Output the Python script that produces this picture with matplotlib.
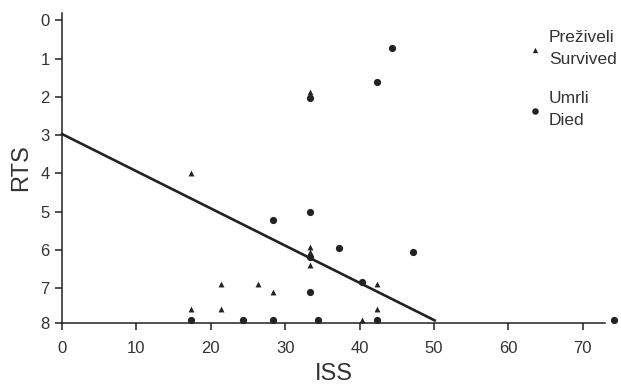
import matplotlib
matplotlib.use("Agg")
import matplotlib.pyplot as plt
import numpy as np

plt.rcParams['font.family'] = ['Liberation Sans', 'DejaVu Sans']

# Survived (Preživeli) - triangles
surv_iss = [17.4, 17.4, 21.4, 21.4, 26.4, 28.3, 33.4, 33.4, 33.4, 33.4, 40.3, 42.4, 42.4]
surv_rts = [4.0, 7.55, 6.90, 7.55, 6.90, 7.11, 1.86, 5.92, 6.05, 6.38, 7.84, 6.90, 7.55]

# Died (Umrli) - circles
died_iss = [17.4, 24.4, 28.3, 28.3, 33.4, 33.4, 33.4, 33.4, 34.4, 37.2, 40.3, 42.4, 42.4, 44.3, 47.2, 74.2]
died_rts = [7.84, 7.84, 7.84, 5.22, 2.03, 5.00, 6.18, 7.11, 7.84, 5.94, 6.83, 7.84, 1.60, 0.72, 6.06, 7.84]

# Regression line RTS = intercept + slope * ISS
reg_intercept = 2.97
reg_slope = 0.0972
rts_max = 7.84

x_ticks = [0, 10, 20, 30, 40, 50, 60, 70]
y_ticks = [0, 1, 2, 3, 4, 5, 6, 7, 7.9]
y_tick_labels = ['0', '1', '2', '3', '4', '5', '6', '7', '8']

ink = '#222222'
txt = '#333333'

fig = plt.figure(figsize=(6.21, 3.87), dpi=100)
ax = fig.add_axes([62/621, (387-322.7)/387, 543/621, 310/387])

ax.scatter(surv_iss, surv_rts, marker='^', s=18, color=ink, linewidths=0,
           clip_on=False, zorder=3, label='Preživeli\nSurvived')
ax.scatter(died_iss, died_rts, marker='o', s=27, color=ink, linewidths=0,
           clip_on=False, zorder=3, label='Umrli\nDied')

x_end = (rts_max - reg_intercept) / reg_slope
xl = np.array([0, x_end])
ax.plot(xl, reg_intercept + reg_slope * xl, color=ink, lw=1.9, clip_on=False, zorder=2)

ax.set_xlim(0, 73)
ax.set_ylim(7.9, -0.2)
ax.set_xticks(x_ticks)
ax.set_yticks(y_ticks)
ax.set_yticklabels(y_tick_labels)

for s in ['top', 'right']:
    ax.spines[s].set_visible(False)
for s in ['left', 'bottom']:
    ax.spines[s].set_linewidth(1.1)
    ax.spines[s].set_color(ink)

ax.tick_params(axis='both', direction='out', length=5, width=1.1, colors=ink,
               labelsize=12, labelcolor=txt)
ax.tick_params(axis='x', pad=8.5)
ax.tick_params(axis='y', pad=4)

ax.set_xlabel('ISS', fontsize=17, color=txt, labelpad=5)
ax.set_ylabel('RTS', fontsize=17, color=txt, labelpad=6)

leg = ax.legend(loc='upper left', bbox_to_anchor=(530/621, 1 - 30/387),
                bbox_transform=fig.transFigure, frameon=False, fontsize=12.5,
                handlelength=0.6, handletextpad=0.5, labelspacing=1.35,
                borderaxespad=0, borderpad=0, markerscale=0.9)
for t in leg.get_texts():
    t.set_color(txt)
    t.set_linespacing(1.62)

fig.savefig('out.png', dpi=100)
